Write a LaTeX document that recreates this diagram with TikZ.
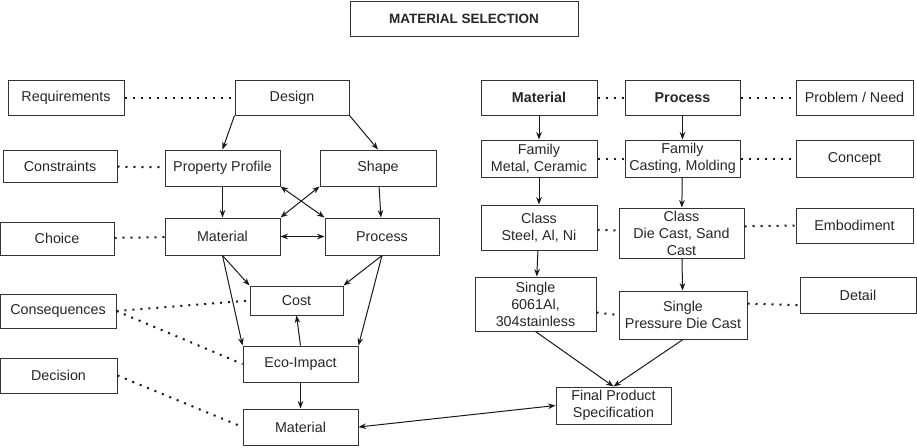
\documentclass[tikz,border=0pt]{standalone}
\usepackage{fontspec}
\setmainfont{Liberation Sans}
\usepackage{xcolor}
\usetikzlibrary{arrows.meta}

\begin{document}
\begin{tikzpicture}[x=1pt,y=-1pt,>=Stealth,
  box/.style={draw=black!80,line width=1pt,align=center,inner sep=0pt,text=black!85,
    font=\fontsize{14.3}{17}\selectfont},
  sz/.style 2 args={minimum width=#1pt,minimum height=#2pt},
  arr/.style={->,line width=1pt,black!90},
  dots/.style={line width=2pt,dash pattern=on 2pt off 6pt,black!90}]
\useasboundingbox(0,0)rectangle(917,447);
\node[box,sz={228}{35},font=\fontsize{13.5}{16}\selectfont\bfseries](title)at(464,18.5){MATERIAL SELECTION};
% left part
\node[box,sz={116}{35}](req)at(66,97.5){Requirements};
\node[box,sz={114}{35}](des)at(292,97.5){Design};
\node[box,sz={114}{32}](con)at(60,166){Constraints};
\node[box,sz={115}{36}](pp)at(222.5,168){Property Profile};
\node[box,sz={116}{36}](shp)at(378,168){Shape};
\node[box,sz={114}{33}](cho)at(57,238.5){Choice};
\node[box,sz={115}{37}](mat)at(222.5,236.5){Material};
\node[box,sz={114}{37}](pro)at(382,236.5){Process};
\node[box,sz={93}{29}](cst)at(296.5,300.5){Cost};
\node[box,sz={116}{34}](cnq)at(58,311){Consequences};
\node[box,sz={115}{36}](eco)at(300.5,364){Eco-Impact};
\node[box,sz={117}{35}](dec)at(58.5,375.5){Decision};
\node[box,sz={115}{36}](fmat)at(300.5,427){Material};
\draw[dots](req)--(des);
\draw[dots](con)--(pp);
\draw[dots](cho)--(mat);
\draw[dots](cnq.east)--(cst.west);
\draw[dots](cnq.east)--(eco.west);
\draw[dots](dec.east)--(fmat.west);
\draw[arr](des.south west)--(pp.north);
\draw[arr](des.south east)--(shp.north);
\draw[arr](pp)--(mat);
\draw[arr](shp)--(pro);
\draw[arr,<->](pp.south east)--(pro.north west);
\draw[arr,<->](shp.south west)--(mat.north east);
\draw[arr,<->](mat)--(pro);
\draw[arr](mat.south)--(cst.north west);
\draw[arr](mat.south)--(eco.north west);
\draw[arr](pro.south)--(cst.north east);
\draw[arr](pro.south)--(eco.north east);
\draw[arr](eco.north)--(cst.south);
\draw[arr](eco)--(fmat);
% right part
\node[box,sz={116}{35},font=\fontsize{14.3}{17}\selectfont\bfseries](rmat)at(539,97.5){Material};
\node[box,sz={115}{35},font=\fontsize{14.3}{17}\selectfont\bfseries](rpro)at(682.5,97.5){Process};
\node[box,sz={117}{35}](need)at(854.5,97.5){Problem / Need};
\node[box,sz={116}{37}](fam1)at(539,158.5){Family\\Metal, Ceramic};
\node[box,sz={115}{37}](fam2)at(682.5,158.5){Family\\Casting, Molding};
\node[box,sz={117}{37}](cpt)at(854.5,158.5){Concept};
\node[box,sz={116}{45}](cls1)at(539,227.5){Class\\Steel, Al, Ni};
\node[box,sz={125}{50}](cls2)at(681.5,233){Class\\Die Cast, Sand\\Cast};
\node[box,sz={117}{35}](emb)at(854.5,225.5){Embodiment};
\node[box,sz={121}{54}](sgl1)at(535.5,304){Single\\6061Al,\\304stainless};
\node[box,sz={128}{48}](sgl2)at(683,315){Single\\Pressure Die Cast};
\node[box,sz={116}{36}](det)at(858,295){Detail};
\node[box,sz={115}{37}](fps)at(613.5,405.5){Final Product\\Specification};
\draw[dots](rmat)--(rpro);
\draw[dots](rpro)--(need);
\draw[dots](fam1)--(fam2);
\draw[dots](fam2)--(cpt);
\draw[dots](cls1)--(cls2);
\draw[dots](cls2.6)--(emb.west);
\draw[dots](sgl1.-8)--(sgl2.west);
\draw[dots](sgl2.10)--(det.190);
\draw[arr](rmat)--(fam1);
\draw[arr](rpro)--(fam2);
\draw[arr](fam1)--(cls1);
\draw[arr](fam2)--(cls2);
\draw[arr](cls1)--(sgl1);
\draw[arr](cls2)--(sgl2);
\draw[arr](sgl1.south)--(fps.north);
\draw[arr](sgl2.south)--(fps.north);
\draw[arr,<->](fmat.east)--(fps.west);
\end{tikzpicture}
\end{document}
